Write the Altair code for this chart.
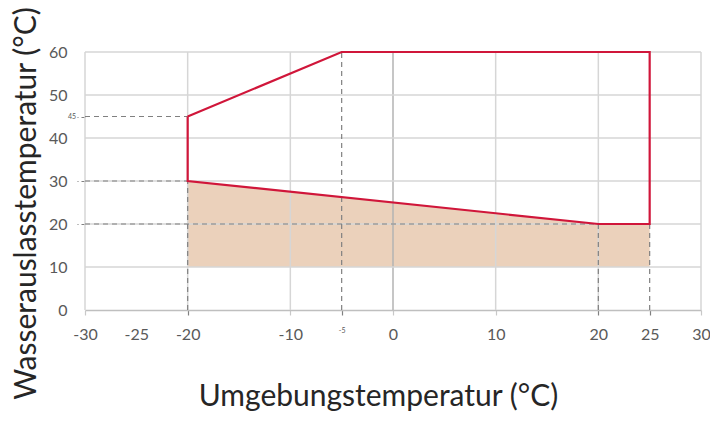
import altair as alt
import pandas as pd

# ---- data ----
x_ticks = [-30, -25, -20, -10, -5, 0, 10, 20, 25, 30]
y_ticks = [0, 10, 20, 30, 40, 45, 50, 60]

grid_x = [-30, -20, -10, 10, 20, 30]
zero_x = [0]
grid_y = [10, 20, 30, 40, 50, 60]

boundary_x = [-20, -5, 25, 25, 20, -20, -20]
boundary_y = [45, 60, 60, 20, 20, 30, 45]

area_x = [-20, 20, 25]
area_top = [30, 20, 20]
area_bottom = [10, 10, 10]

guide_x1 = [-30, -30, -30, -20, -5, 20, 25]
guide_x2 = [-20, -20, 20, -20, -5, 20, 25]
guide_y1 = [45, 30, 20, 0, 0, 0, 0]
guide_y2 = [45, 30, 20, 30, 60, 20, 20]

small_label_x = [-30]
small_label_y = [45]
small_label_text = ["45"]

x_title = "Umgebungstemperatur (°C)"
y_title = "Wasserauslasstemperatur (°C)"

# ---- tables ----
boundary = pd.DataFrame({"x": boundary_x, "y": boundary_y, "o": list(range(len(boundary_x)))})
area = pd.DataFrame({"x": area_x, "y": area_top, "y2": area_bottom})
guides = pd.DataFrame({"x": guide_x1, "x2": guide_x2, "y": guide_y1, "y2": guide_y2})
small = pd.DataFrame({"x": small_label_x, "y": small_label_y, "t": small_label_text})
gx = pd.DataFrame({"x": grid_x})
gz = pd.DataFrame({"x": zero_x})
gy = pd.DataFrame({"y": grid_y})

FONT = "Lato"
GRID = "#d6d6d6"
DASH = "#808080"
RED = "#D0163A"
FILL = "#EBD1BB"

xscale = alt.Scale(domain=[-30, 30], nice=False, zero=False)
yscale = alt.Scale(domain=[0, 60], nice=False, zero=False)

dashed_x = "datum.value == -20 || datum.value == -5 || datum.value == 20 || datum.value == 25"
xaxis = alt.Axis(
    values=x_ticks,
    title=x_title,
    grid=False,
    domain=True,
    domainColor="#bfbfbf",
    domainWidth=1.5,
    ticks=True,
    tickSize=5,
    tickWidth=1.2,
    tickColor={"condition": {"test": dashed_x, "value": DASH}, "value": "#c8c8c8"},
    tickOpacity={"condition": {"test": "datum.value == -25", "value": 0}, "value": 1},
    labelFont=FONT,
    labelFontSize={"condition": {"test": "datum.value == -5", "value": 7}, "value": 16},
    labelColor="#595959",
    labelPadding=11,
    labelFlush=False,
    labelOverlap=False,
    labelBaseline="top",
    labelExpr="'' + datum.value",
    titleFont=FONT,
    titleFontSize=30,
    titleFontWeight="normal",
    titleColor="#262626",
    titleX=293,
    titleY=95,
    titleAlign="center",
    titleBaseline="alphabetic",
)

dashed_y = "datum.value == 20 || datum.value == 30 || datum.value == 45"
yaxis = alt.Axis(
    values=y_ticks,
    title=y_title,
    grid=False,
    domain=False,
    ticks=True,
    tickSize=8,
    tickWidth=1.2,
    tickColor=DASH,
    tickDash=[4, 3],
    tickOpacity={"condition": {"test": dashed_y, "value": 1}, "value": 0},
    labelFont=FONT,
    labelFontSize=16,
    labelColor="#595959",
    labelPadding=10,
    labelExpr="datum.value == 45 ? '' : '' + datum.value",
    labelOverlap=False,
    labelFlush=False,
    titleFont=FONT,
    titleFontSize=30,
    titleFontWeight="normal",
    titleColor="#262626",
    titleAngle=-90,
    titleX=-50,
    titleY=151,
    titleAlign="center",
    titleBaseline="alphabetic",
)

X = lambda f: alt.X(f, scale=xscale, axis=xaxis)
Y = lambda f: alt.Y(f, scale=yscale, axis=yaxis)

area_layer = alt.Chart(area).mark_area(color=FILL, opacity=1).encode(
    x=X("x:Q"), y=Y("y:Q"), y2="y2:Q"
)

grid_v = alt.Chart(gx).mark_rule(color=GRID, strokeWidth=1.5).encode(x=X("x:Q"))
grid_0 = alt.Chart(gz).mark_rule(color="#b3b3b3", strokeWidth=1.5).encode(x=X("x:Q"))
grid_h = alt.Chart(gy).mark_rule(color=GRID, strokeWidth=1.5).encode(y=Y("y:Q"))

guide_layer = alt.Chart(guides).mark_rule(color=DASH, strokeWidth=1.2, strokeDash=[5, 4]).encode(
    x=X("x:Q"), x2="x2:Q", y=Y("y:Q"), y2="y2:Q"
)

line_layer = alt.Chart(boundary).mark_line(color=RED, strokeWidth=2.2, strokeJoin="miter").encode(
    x=X("x:Q"), y=Y("y:Q"), order="o:Q"
)

text_layer = alt.Chart(small).mark_text(
    font=FONT, fontSize=7, color="#595959", align="right", baseline="middle", dx=-9
).encode(x=X("x:Q"), y=Y("y:Q"), text="t:N")

chart = (
    alt.layer(area_layer, grid_v, grid_0, grid_h, guide_layer, line_layer, text_layer)
    .properties(
        width=616,
        height=258,
        autosize="none",
        padding={"left": 85, "top": 52, "right": 9, "bottom": 115},
        background="white",
    )
    .configure_view(stroke=None)
)

chart.save("out.html", embed_options={"renderer": "svg", "actions": False})
